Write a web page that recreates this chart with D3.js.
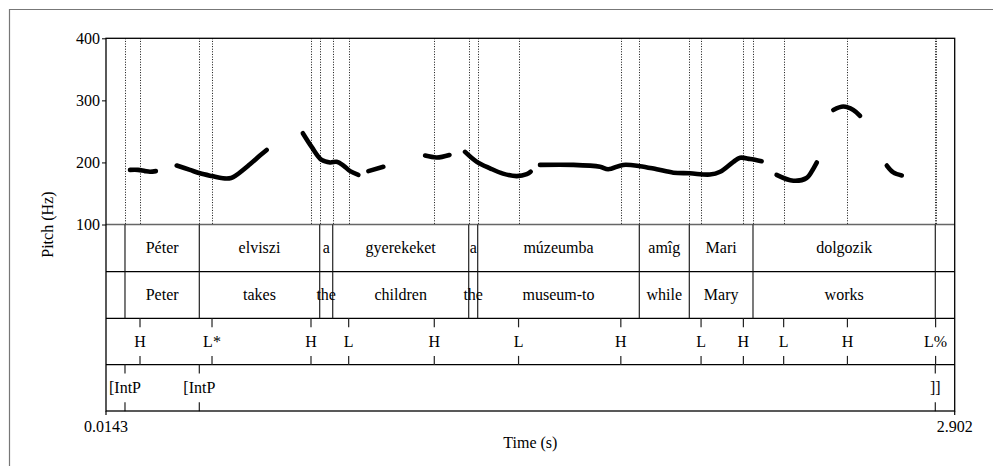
<!DOCTYPE html>
<html>
<head>
<meta charset="utf-8">
<script src="https://cdn.jsdelivr.net/npm/d3@7"></script>
<style>
  html, body { margin: 0; padding: 0; background: #fff; }
  svg { display: block; }
  text { font-family: "Liberation Serif", "Times New Roman", "DejaVu Serif", serif; font-size: 16px; fill: #000; }
</style>
</head>
<body>
<svg id="chart" width="993" height="466" font-family="Liberation Serif, serif"></svg>
<script>
// ---------- DATA ----------
const timeDomain = [0.0143, 2.902];
const pitchDomain = [100, 400];
const pitchTicks = [100, 200, 300, 400];
const timeTickLabels = ["0.0143", "2.902"];

// pitch contour segments: [time (s), F0 (Hz)]
const seg1 = [[0.096,188],[0.123,188],[0.147,186],[0.164,185],[0.184,186]];
const seg2 = [[0.255,195],[0.300,188],[0.334,182.5],[0.375,178],[0.412,174.5],[0.440,175],[0.459,180],[0.504,197],[0.538,211],[0.561,220]];
const seg3 = [[0.684,247],[0.714,225],[0.748,204],[0.777,200],[0.799,201],[0.822,195],[0.845,186],[0.873,180]];
const seg4 = [[0.907,186],[0.958,193]];
const seg5 = [[1.100,211],[1.140,208],[1.183,212]];
const seg6 = [[1.236,217],[1.276,201],[1.321,190.5],[1.365,182],[1.412,178],[1.446,181],[1.459,185]];
const seg7 = [[1.491,196],[1.604,196],[1.695,193],[1.723,189],[1.774,196],[1.831,194],[1.888,189],[1.945,183.5],[2.001,182.5],[2.069,180.5],[2.104,185],[2.149,201],[2.172,207.5],[2.206,205.5],[2.245,202]];
const seg8 = [[2.296,180],[2.353,170.5],[2.398,175],[2.421,190],[2.433,200]];
const seg9 = [[2.489,284.5],[2.523,290],[2.557,284.5],[2.580,275]];
const seg10 = [[2.671,195],[2.693,184],[2.722,179]];
const pitchSegments = [seg1, seg2, seg3, seg4, seg5, seg6, seg7, seg8, seg9, seg10];

// interval tiers (shared boundaries)
const wordBoundaries = [0.0789, 0.3318, 0.7414, 0.7857, 1.2484, 1.279, 1.8289, 1.999, 2.2157, 2.836];
const hungarianWords = ["", "Péter", "elviszi", "a", "gyerekeket", "a", "múzeumba", "amîg", "Mari", "dolgozik", ""];
const englishGloss   = ["", "Peter", "takes", "the", "children", "the", "museum-to", "while", "Mary", "works", ""];

// point tiers
const toneTimes  = [0.130, 0.375, 0.7118, 0.840, 1.1313, 1.418, 1.766, 2.039, 2.183, 2.320, 2.537, 2.837];
const toneLabels = ["H", "L*", "H", "L", "H", "L", "H", "L", "H", "L", "H", "L%"];
const breakTimes  = [0.0789, 0.3318, 2.836];
const breakLabels = ["[IntP", "[IntP", "]]"];

// ---------- LAYOUT ----------
const svg = d3.select("#chart");
const pLeft = 106, pRight = 954.7, pTop = 38.3, pitchBottom = 224.5;
const tierH = 46.6;
const tierTops = [224.5, 271.6, 318.3, 364.6];
const pBottom = 411;
const FONT = '"Liberation Serif", "Times New Roman", serif';

const x = d3.scaleLinear().domain(timeDomain).range([pLeft, pRight]);
const y = d3.scaleLinear().domain(pitchDomain).range([pitchBottom, pTop]);

// outer frame
svg.append("path").attr("d", `M9.5,470 V9.5 H1000`).attr("fill", "none").attr("stroke", "#777").attr("stroke-width", 1.2);

// dotted guide lines in pitch area
const guideTimes = wordBoundaries.concat(toneTimes);
svg.append("g").selectAll("line").data(guideTimes).join("line")
  .attr("x1", d => Math.round(x(d)) + 0.5).attr("x2", d => Math.round(x(d)) + 0.5)
  .attr("y1", pTop).attr("y2", pitchBottom)
  .attr("stroke", "#111").attr("stroke-width", 1).attr("stroke-dasharray", "1,1.6");

// pitch contour
const line = d3.line().x(d => x(d[0])).y(d => y(d[1])).curve(d3.curveCatmullRom.alpha(0.5));
svg.append("g").selectAll("path").data(pitchSegments).join("path")
  .attr("d", line).attr("fill", "none").attr("stroke", "#000")
  .attr("stroke-width", 4.6).attr("stroke-linecap", "round").attr("stroke-linejoin", "round");

// y axis ticks & labels
const yAxis = d3.axisLeft(y).tickValues(pitchTicks).tickSize(4).tickPadding(2).tickFormat(d3.format("d"));
const ya = svg.append("g").attr("transform", `translate(${pLeft},0)`).call(yAxis);
ya.attr("font-family", null).attr("font-size", null);
ya.select(".domain").remove();
ya.selectAll("text").style("font-family", FONT).style("font-size", "16px").attr("fill", "#000");
ya.selectAll("line").attr("stroke", "#000");

// horizontal tier lines
svg.append("g").selectAll("line").data([pitchBottom, tierTops[1], tierTops[2], tierTops[3]]).join("line")
  .attr("x1", pLeft).attr("x2", pRight).attr("y1", d => d).attr("y2", d => d)
  .attr("stroke", (d, i) => i === 0 ? "#666" : "#000").attr("stroke-width", 1.3);

// interval tiers
function intervalTier(labels, t0) {
  const g = svg.append("g");
  g.selectAll("line").data(wordBoundaries).join("line")
    .attr("x1", d => x(d)).attr("x2", d => x(d)).attr("y1", t0).attr("y2", t0 + tierH)
    .attr("stroke", "#222").attr("stroke-width", 1.2);
  const edges = [timeDomain[0]].concat(wordBoundaries, [timeDomain[1]]);
  g.selectAll("text").data(labels).join("text")
    .attr("x", (d, i) => (x(edges[i]) + x(edges[i + 1])) / 2)
    .attr("y", t0 + tierH / 2 + 5.5)
    .attr("text-anchor", "middle").style("font-family", FONT)
    .text(d => d);
}
intervalTier(hungarianWords, tierTops[0]);
intervalTier(englishGloss, tierTops[1]);

// point tiers
function pointTier(times, labels, t0) {
  const g = svg.append("g");
  times.forEach((t, i) => {
    const px = x(t);
    g.append("line").attr("x1", px).attr("x2", px).attr("y1", t0).attr("y2", t0 + 9).attr("stroke", "#222").attr("stroke-width", 1.2);
    g.append("line").attr("x1", px).attr("x2", px).attr("y1", t0 + tierH - 9).attr("y2", t0 + tierH).attr("stroke", "#222").attr("stroke-width", 1.2);
    g.append("text").attr("x", px).attr("y", t0 + tierH / 2 + 5.5)
      .attr("text-anchor", "middle").style("font-family", FONT).text(labels[i]);
  });
}
pointTier(toneTimes, toneLabels, tierTops[2]);
pointTier(breakTimes, breakLabels, tierTops[3]);

// plot frame
svg.append("rect").attr("x", pLeft).attr("y", pTop).attr("width", pRight - pLeft).attr("height", pBottom - pTop)
  .attr("fill", "none").attr("stroke", "#000").attr("stroke-width", 1.3);

// time axis end ticks and labels
[timeDomain[0], timeDomain[1]].forEach((t, i) => {
  svg.append("line").attr("x1", x(t)).attr("x2", x(t)).attr("y1", pBottom).attr("y2", pBottom + 4).attr("stroke", "#000").attr("stroke-width", 1.2);
  svg.append("text").attr("x", x(t)).attr("y", 432).attr("text-anchor", "middle").style("font-family", FONT).text(timeTickLabels[i]);
});
svg.append("text").attr("x", (pLeft + pRight) / 2).attr("y", 448).attr("text-anchor", "middle").style("font-family", FONT).text("Time (s)");

// y axis title
svg.append("text").attr("transform", `translate(53,${(pTop + pBottom) / 2}) rotate(-90)`)
  .attr("text-anchor", "middle").style("font-family", FONT).text("Pitch (Hz)");
</script>
</body>
</html>
